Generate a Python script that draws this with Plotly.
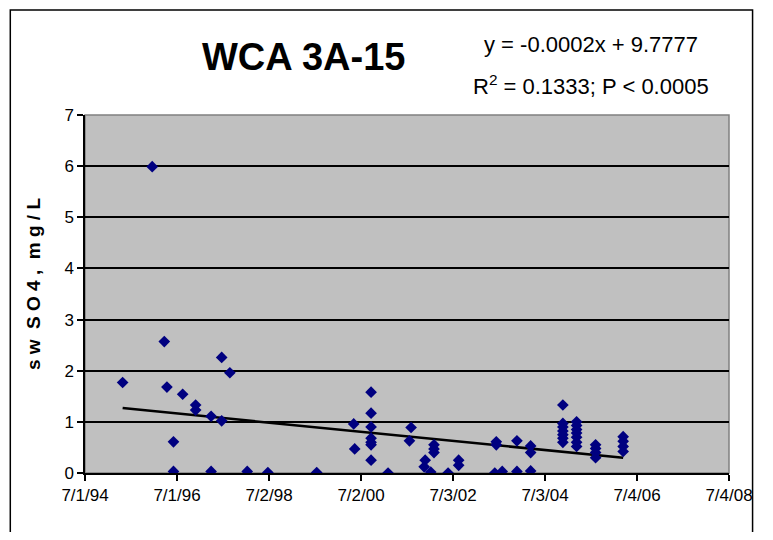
import plotly.graph_objects as go
from datetime import date

# ---- data ----
sample_dates = [
    "1995-04-26", "1995-12-17", "1996-03-22", "1996-04-12", "1996-06-03", "1996-06-03",
    "1996-08-15", "1996-11-26", "1996-11-26", "1997-03-29", "1997-03-29", "1997-06-21",
    "1997-06-21", "1997-08-25", "1998-01-10", "1998-06-23", "1999-07-16",
    "2000-05-05", "2000-05-13",
    "2000-09-20", "2000-09-20", "2000-09-20", "2000-09-20", "2000-09-20", "2000-09-20", "2000-09-20",
    "2001-02-02", "2001-07-22", "2001-08-04",
    "2001-11-16", "2001-11-24", "2002-01-07",
    "2002-02-02", "2002-02-02", "2002-02-02",
    "2002-05-25", "2002-08-17", "2002-08-17",
    "2003-05-31", "2003-06-12", "2003-06-12", "2003-07-29",
    "2003-11-23", "2003-11-23",
    "2004-03-11", "2004-03-11", "2004-03-11",
    "2004-11-22", "2004-11-22", "2004-11-22", "2004-11-22", "2004-11-22", "2004-11-22", "2004-11-22",
    "2005-03-11", "2005-03-11", "2005-03-11", "2005-03-11", "2005-03-11", "2005-03-11", "2005-03-11",
    "2005-08-09", "2005-08-09", "2005-08-09", "2005-08-09",
    "2006-03-16", "2006-03-16", "2006-03-16", "2006-03-16",
]
so4_values = [
    1.77, 5.99, 2.57, 1.68, 0.61, 0.03,
    1.54, 1.33, 1.23, 1.11, 0.03, 2.26,
    1.02, 1.96, 0.03, 0.01, 0.01,
    0.96, 0.47,
    1.58, 1.17, 0.90, 0.68, 0.60, 0.55, 0.25,
    0.00, 0.63, 0.89,
    0.12, 0.25, 0.02,
    0.55, 0.47, 0.40,
    0.00, 0.25, 0.15,
    0.00, 0.61, 0.55, 0.03,
    0.63, 0.03,
    0.53, 0.40, 0.04,
    1.33, 0.97, 0.90, 0.82, 0.75, 0.68, 0.60,
    1.00, 0.93, 0.85, 0.78, 0.70, 0.60, 0.52,
    0.55, 0.48, 0.40, 0.30,
    0.71, 0.62, 0.52, 0.42,
]

tick_dates = ["1994-07-01", "1996-07-01", "1998-07-02", "2000-07-02",
              "2002-07-03", "2004-07-03", "2006-07-04", "2008-07-04"]
tick_labels = ["7/1/94", "7/1/96", "7/2/98", "7/2/00", "7/3/02", "7/3/04", "7/4/06", "7/4/08"]

# linear trend in Excel serial-date units (as reported on the chart)
trend_slope = -0.0002444
trend_intercept = 9.7777

excel_epoch = date(1899, 12, 30)


def excel_serial(d):
    return (date.fromisoformat(d) - excel_epoch).days


trend_x = [min(sample_dates), max(sample_dates)]
trend_y = [trend_slope * excel_serial(d) + trend_intercept for d in trend_x]

# ---- figure ----
fig = go.Figure()
fig.add_trace(go.Scatter(
    x=trend_x, y=trend_y, mode="lines",
    line=dict(color="black", width=2.5), hoverinfo="skip", showlegend=False,
))
fig.add_trace(go.Scatter(
    x=sample_dates, y=so4_values, mode="markers",
    marker=dict(symbol="diamond", size=9, color="#000080"),
    showlegend=False,
))

tick_font = dict(family="Liberation Sans, Arial", size=17, color="black")
eq_font = dict(family="Liberation Sans, Arial", size=22, color="black")

fig.update_layout(
    width=757, height=524,
    margin=dict(l=77, r=25, t=107, b=59),
    paper_bgcolor="white",
    plot_bgcolor="#C0C0C0",
    font=dict(family="Liberation Sans, Arial", color="black"),
    xaxis=dict(
        type="date",
        range=[tick_dates[0], tick_dates[-1]],
        tickmode="array", tickvals=tick_dates, ticktext=tick_labels,
        showgrid=False, zeroline=False,
        showline=True, linecolor="black", linewidth=1.5,
        ticks="outside", ticklen=6, tickcolor="black", tickwidth=1.5,
        tickfont=tick_font,
    ),
    yaxis=dict(
        range=[0, 7], tickmode="linear", tick0=0, dtick=1,
        showgrid=True, gridcolor="black", gridwidth=1.5,
        zeroline=False,
        showline=True, linecolor="black", linewidth=1.5,
        ticks="outside", ticklen=6, tickcolor="black", tickwidth=1.5,
        tickfont=tick_font,
    ),
    shapes=[
        # plot-area frame (gray)
        dict(type="rect", xref="paper", yref="paper", x0=0, x1=1, y0=0, y1=1,
             line=dict(color="#808080", width=1.5), layer="below"),
        # outer chart border
        dict(type="rect", xref="paper", yref="paper", x0=-0.116, x1=1.0366, y0=-0.3, y1=1.293,
             line=dict(color="black", width=1.5)),
    ],
    annotations=[
        dict(text="<b>WCA 3A-15</b>", xref="paper", yref="paper", x=0.339, y=1.162,
             xanchor="center", yanchor="middle", showarrow=False,
             font=dict(family="Liberation Sans, Arial", size=38, color="black")),
        dict(text="y = -0.0002x + 9.7777", xref="paper", yref="paper", x=0.786, y=1.196,
             xanchor="center", yanchor="middle", showarrow=False, font=eq_font),
        dict(text="R<sup>2</sup> = 0.1333; P < 0.0005", xref="paper", yref="paper", x=0.786, y=1.084,
             xanchor="center", yanchor="middle", showarrow=False, font=eq_font),
        dict(text="<b>s w  S O 4 ,  m g / L</b>", xref="paper", yref="paper", x=-0.079, y=0.528,
             xanchor="center", yanchor="middle", textangle=-90, showarrow=False,
             font=dict(family="Liberation Sans, Arial", size=19, color="black")),
    ],
)

fig.write_html("out.html")
